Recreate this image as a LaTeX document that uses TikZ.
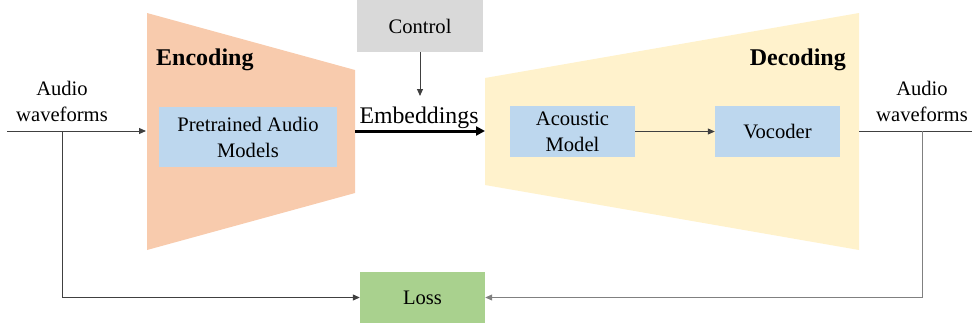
\documentclass[tikz,border=0pt]{standalone}
\usepackage{fontspec}
\setmainfont{Liberation Serif}
\usetikzlibrary{arrows.meta}
\definecolor{encc}{HTML}{F8CBAD}
\definecolor{decc}{HTML}{FFF2CC}
\definecolor{bluec}{HTML}{BDD7EE}
\definecolor{grayc}{HTML}{D9D9D9}
\definecolor{greenc}{HTML}{A9D18E}
\definecolor{linec}{HTML}{404040}
\tikzset{
  blk/.style={inner sep=0pt, align=center, font=\fontsize{20.6}{26}\selectfont},
  conn/.style={draw=linec, line width=1pt, -{Triangle[length=7pt,width=6pt]}},
  plain/.style={draw=linec, line width=1pt},
  lbl/.style={inner sep=0pt, align=center, font=\fontsize{20.6}{26}\selectfont},
  big/.style={inner sep=0pt, font=\fontsize{24}{28}\selectfont\bfseries},
}
\begin{document}
\begin{tikzpicture}[x=1pt,y=-1pt]
\useasboundingbox (0,0) rectangle (972,325);
% trapezoids
\fill[encc] (147,13) -- (355,70) -- (355,193) -- (147,250) -- cycle;
\fill[decc] (485,78) -- (859,13) -- (859,250) -- (485,185) -- cycle;
\node[big, anchor=west] (enc) at (156,60) {Encoding};
\node[big, anchor=east] (dec) at (846,60) {Decoding};
% boxes
\node[blk, fill=bluec, minimum width=178pt, minimum height=60pt] (pam) at (248,137) {Pretrained Audio\\Models};
\node[blk, fill=bluec, minimum width=125pt, minimum height=51pt] (am) at (572.5,131.5) {Acoustic\\Model};
\node[blk, fill=bluec, minimum width=125pt, minimum height=51pt] (voc) at (777.5,131.5) {Vocoder};
\node[blk, fill=grayc, minimum width=126pt, minimum height=52pt] (ctl) at (420,26) {Control};
\node[blk, fill=greenc, minimum width=125pt, minimum height=51pt] (loss) at (422.5,297.5) {Loss};
% labels
\node[lbl] (awl) at (62,101) {Audio\\waveforms};
\node[lbl] (awr) at (922,101) {Audio\\waveforms};
\node[inner sep=0pt, font=\fontsize{23.8}{28}\selectfont] (emb) at (419,118) {Embeddings};
% coordinates
\coordinate (inL) at (7,131);
\coordinate (brL) at (62,131);
\coordinate (encin) at (146,131);
\coordinate (encout) at (355,131);
\coordinate (decin) at (485,131);
\coordinate (decout) at (859,131);
\coordinate (outR) at (972,131);
\coordinate (brR) at (922,131);
\coordinate (ctlend) at (420,96);
% connectors
\draw[conn] (inL) -- (encin);
\draw[conn] (brL) |- (loss.west);
\draw[conn] (ctl.south) -- (ctlend);
\draw[line width=3pt, -{Triangle[length=9pt,width=9pt]}] (encout) -- (decin);
\draw[conn] (am.east) -- (voc.west);
\draw[plain] (decout) -- (outR);
\draw[conn, draw=gray] (brR) |- (loss.east);
\end{tikzpicture}
\end{document}
